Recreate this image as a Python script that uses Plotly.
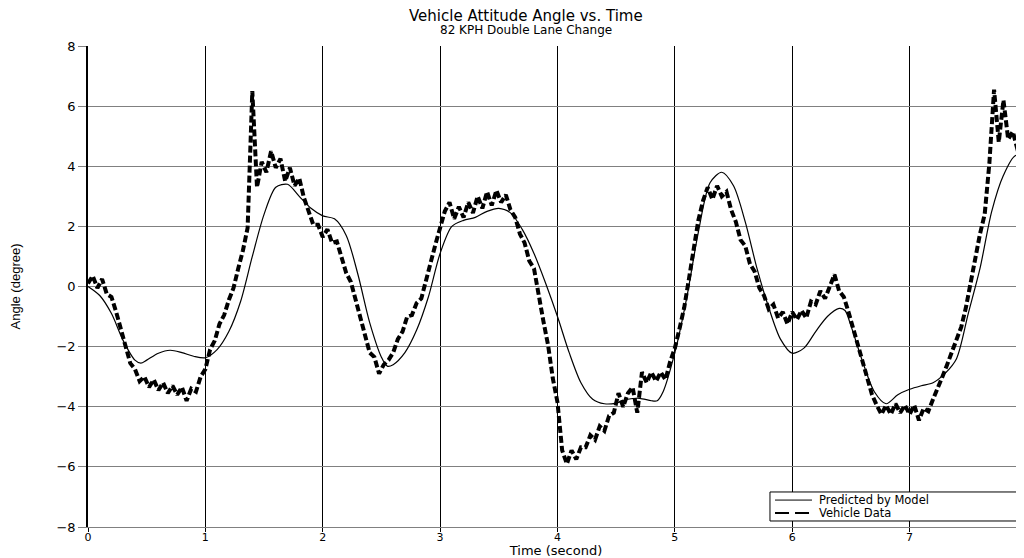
import plotly.graph_objects as go

# ---------------- data ----------------
vehicle_step = 0.04
vehicle_values = [
    0.10, 0.35, -0.05, 0.25, -0.25, -0.35, -0.85, -1.45, -2.05, -2.55,
    -2.75, -3.15, -3.00, -3.35, -3.10, -3.45, -3.20, -3.55, -3.30, -3.60,
    -3.35, -3.80, -3.40, -3.50, -3.00, -2.75, -2.10, -1.80, -1.25, -0.95,
    -0.45, -0.05, 0.60, 1.20, 1.95, 6.50, 3.30, 4.15, 3.80, 4.50,
    3.95, 4.25, 3.50, 3.95, 3.35, 3.60, 2.95, 2.50, 2.05, 2.05,
    1.65, 1.90, 1.45, 1.50, 0.95, 0.45, 0.15, -0.45, -1.05, -1.65,
    -2.20, -2.35, -2.90, -2.60, -2.45, -2.20, -1.75, -1.50, -1.00, -0.95,
    -0.55, -0.40, 0.25, 0.80, 1.40, 1.95, 2.50, 2.80, 2.25, 2.65,
    2.30, 2.80, 2.45, 3.00, 2.60, 3.15, 2.70, 3.20, 2.80, 3.05,
    2.55, 2.30, 1.75, 1.45, 0.85, 0.60, -0.35, -1.15, -1.95, -3.05,
    -3.85, -5.45, -5.90, -5.45, -5.75, -5.35, -5.35, -4.95, -5.10, -4.65,
    -4.80, -4.30, -4.20, -3.55, -4.00, -3.55, -3.35, -4.20, -2.85, -3.20,
    -2.85, -3.15, -2.85, -3.10, -2.50, -2.05, -1.40, -0.70, 0.25, 1.20,
    2.20, 2.85, 3.30, 2.90, 3.35, 3.00, 3.15, 2.55, 2.15, 1.55,
    1.35, 0.75, 0.50, -0.05, -0.30, -0.75, -0.60, -1.05, -0.85, -1.25,
    -0.85, -1.10, -0.80, -1.05, -0.50, -0.60, -0.15, -0.40, 0.05, 0.40,
    -0.15, -0.35, -0.85, -1.40, -2.05, -2.55, -3.10, -3.60, -3.95, -4.25,
    -3.95, -4.25, -3.90, -4.20, -3.95, -4.25, -3.95, -4.45, -4.05, -4.15,
    -3.75, -3.40, -3.00, -2.60, -2.20, -1.80, -1.35, -0.70, 0.15, 0.95,
    1.75, 2.40, 4.10, 6.55, 4.80, 6.20, 4.90, 5.15, 4.55, 4.65,
    4.10,
]
vehicle_time = [round(i * vehicle_step, 2) for i in range(len(vehicle_values))]

model_time = [
    0.0, 0.1, 0.2, 0.3, 0.4, 0.45, 0.5, 0.6, 0.7, 0.8, 0.9, 1.0,
    1.1, 1.2, 1.3, 1.4, 1.5, 1.6, 1.7, 1.8, 1.9, 2.0,
    2.1, 2.2, 2.3, 2.4, 2.5, 2.55, 2.6, 2.7, 2.8, 2.9, 3.0,
    3.1, 3.2, 3.3, 3.4, 3.5, 3.6, 3.7, 3.8, 3.9, 4.0,
    4.1, 4.2, 4.3, 4.4, 4.5, 4.6, 4.7, 4.8, 4.85, 4.9, 5.0,
    5.1, 5.2, 5.3, 5.4, 5.5, 5.6, 5.7, 5.8, 5.9, 6.0,
    6.1, 6.2, 6.3, 6.4, 6.45, 6.5, 6.6, 6.7, 6.8, 6.9, 7.0,
    7.1, 7.2, 7.3, 7.4, 7.5, 7.6, 7.7, 7.8, 7.9, 8.0,
]
model_values = [
    0.0, -0.3, -0.9, -1.8, -2.45, -2.55, -2.45, -2.22, -2.12, -2.2, -2.32, -2.37,
    -2.1, -1.5, -0.5, 1.0, 2.4, 3.3, 3.4, 3.0, 2.6, 2.35,
    2.25, 1.7, 0.4, -1.2, -2.35, -2.65, -2.6, -2.2, -1.45, -0.35, 1.1,
    2.0, 2.2, 2.3, 2.5, 2.6, 2.45, 1.9, 1.1, 0.1, -1.0,
    -2.2, -3.2, -3.75, -3.9, -3.88, -3.75, -3.72, -3.8, -3.8, -3.5, -2.2,
    -0.4, 1.8, 3.45, 3.8, 3.35, 2.15, 0.6, -0.7, -1.75, -2.22,
    -2.05, -1.5, -1.0, -0.73, -0.8, -1.3, -2.5, -3.5, -3.9, -3.6, -3.42,
    -3.3, -3.2, -2.9, -2.4, -0.9, 0.6, 2.5, 3.7, 4.35, 4.3,
]

x_tick_values = [0, 1, 2, 3, 4, 5, 6, 7, 8]
y_tick_values = [-8, -6, -4, -2, 0, 2, 4, 6, 8]
y_tick_labels = ["\u22128", "\u22126", "\u22124", "\u22122", "0", "2", "4", "6", "8"]

title_text = "Vehicle Attitude Angle vs. Time"
subtitle_text = "82 KPH Double Lane Change"
x_title = "Time (second)"
y_title = "Angle (degree)"
series_names = ["Predicted by Model", "Vehicle Data"]

FONT = "DejaVu Sans, Liberation Sans, Arial, sans-serif"

# ---------------- figure ----------------
fig = go.Figure()
fig.add_trace(go.Scatter(
    x=model_time, y=model_values, mode="lines", name=series_names[0],
    line=dict(color="black", width=1.2, shape="spline", smoothing=0.8),
    showlegend=False,
))
fig.add_trace(go.Scatter(
    x=vehicle_time, y=vehicle_values, mode="lines", name=series_names[1],
    line=dict(color="black", width=4, dash="7px,3px"),
    showlegend=False,
))

# legend box (drawn in plot-area fractions)
lx0, lx1, ly0, ly1 = 0.7286, 0.9936, 0.0125, 0.0728
row_y = [0.0560, 0.0290]
sx0, sx1, tx = 0.734, 0.7735, 0.7795
shapes = [
    dict(type="rect", xref="paper", yref="paper", x0=lx0, x1=lx1, y0=ly0, y1=ly1,
         line=dict(color="black", width=1), fillcolor="white", layer="above"),
    dict(type="line", xref="paper", yref="paper", x0=sx0, x1=sx1, y0=row_y[0], y1=row_y[0],
         line=dict(color="black", width=1), layer="above"),
    dict(type="line", xref="paper", yref="paper", x0=sx0, x1=sx1, y0=row_y[1], y1=row_y[1],
         line=dict(color="black", width=2, dash="14px,6px"), layer="above"),
]
annotations = [
    dict(text=title_text, xref="paper", yref="paper", x=0.468, y=1,
         yshift=30, xanchor="center", yanchor="middle", showarrow=False,
         font=dict(family=FONT, size=15, color="black")),
    dict(text=subtitle_text, xref="paper", yref="paper", x=0.468, y=1,
         yshift=16, xanchor="center", yanchor="middle", showarrow=False,
         font=dict(family=FONT, size=12, color="black")),
]
for name, ry in zip(series_names, row_y):
    annotations.append(dict(
        text=name, xref="paper", yref="paper", x=tx, y=ry, xanchor="left",
        yanchor="middle", showarrow=False, borderpad=0,
        font=dict(family=FONT, size=11.5, color="black")))

fig.update_layout(
    width=1016, height=550, autosize=False,
    margin=dict(l=80, r=0, t=38, b=31, pad=0),
    paper_bgcolor="white", plot_bgcolor="white",
    font=dict(family=FONT, color="black", size=12),
    showlegend=False,
    shapes=shapes,
    annotations=annotations,
)

fig.update_xaxes(
    range=[0, 7.975], tickmode="array", tickvals=x_tick_values,
    ticktext=[str(v) for v in x_tick_values],
    showgrid=True, gridcolor="black", gridwidth=1, zeroline=False,
    showline=True, linecolor="#808080", linewidth=1,
    ticks="outside", ticklen=4, tickcolor="black", tickwidth=1,
    ticklabelstandoff=-4,
    tickfont=dict(family=FONT, size=11, color="black"),
    title=dict(text=x_title, font=dict(family=FONT, size=13, color="black"), standoff=3),
    automargin=False,
)
fig.update_yaxes(
    range=[-8, 8], tickmode="array", tickvals=y_tick_values, ticktext=y_tick_labels,
    showgrid=True, gridcolor="#808080", gridwidth=1, zeroline=False,
    showline=True, linecolor="black", linewidth=1.5,
    ticks="outside", ticklen=8, tickcolor="#808080", tickwidth=1,
    tickfont=dict(family=FONT, size=13, color="black"),
    title=dict(text=y_title, font=dict(family="Liberation Sans Narrow, Liberation Sans, Arial", size=13, color="black"), standoff=35),
    automargin=False,
)

fig.write_html("out.html")
